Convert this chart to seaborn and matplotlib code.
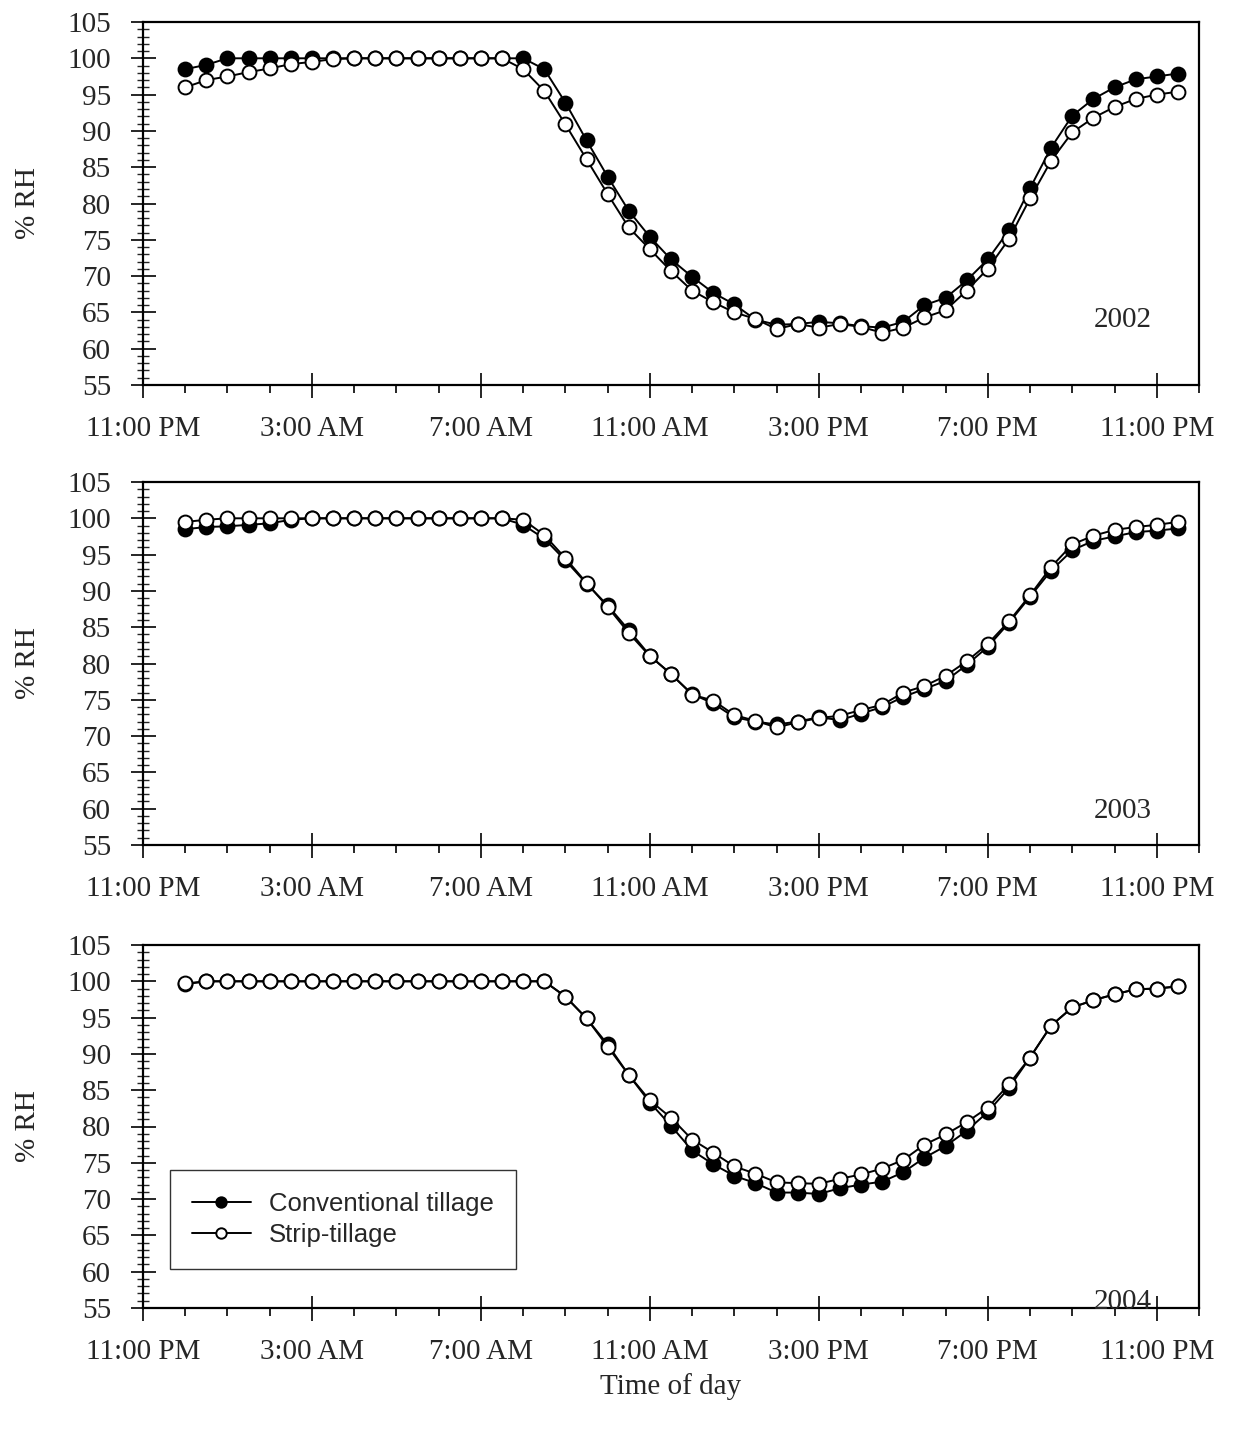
import numpy as np
import pandas as pd
import seaborn as sns
import matplotlib.pyplot as plt
import matplotlib.transforms as mtransforms
from matplotlib.ticker import MultipleLocator

# half-hourly readings, hours after midnight
hours = [0.0, 0.5, 1.0, 1.5, 2.0, 2.5, 3.0, 3.5, 4.0, 4.5, 5.0, 5.5,
         6.0, 6.5, 7.0, 7.5, 8.0, 8.5, 9.0, 9.5, 10.0, 10.5, 11.0, 11.5,
         12.0, 12.5, 13.0, 13.5, 14.0, 14.5, 15.0, 15.5, 16.0, 16.5, 17.0, 17.5,
         18.0, 18.5, 19.0, 19.5, 20.0, 20.5, 21.0, 21.5, 22.0, 22.5, 23.0, 23.5]

years = ["2002", "2003", "2004"]

conv_2002 = [98.5, 99.1, 100, 100, 100, 100, 100, 100, 100, 100, 100, 100,
             100, 100, 100, 100, 100, 98.5, 93.9, 88.7, 83.7, 79.0, 75.4, 72.3,
             69.9, 67.7, 66.1, 64.0, 63.3, 63.4, 63.7, 63.5, 63.1, 62.9, 63.7, 66.0,
             67.0, 69.4, 72.3, 76.3, 82.1, 87.7, 92.1, 94.4, 96.0, 97.1, 97.5, 97.9]
strip_2002 = [96.0, 97.0, 97.5, 98.1, 98.6, 99.2, 99.5, 99.9, 100, 100, 100, 100,
              100, 100, 100, 100, 98.5, 95.5, 90.9, 86.1, 81.3, 76.7, 73.7, 70.7,
              68.0, 66.4, 65.0, 64.1, 62.7, 63.4, 62.9, 63.4, 63.0, 62.2, 62.9, 64.3,
              65.3, 68.0, 71.0, 75.1, 80.7, 85.9, 89.8, 91.8, 93.3, 94.4, 95.0, 95.4]

conv_2003 = [98.5, 98.8, 98.9, 99.1, 99.3, 99.8, 100, 100, 100, 100, 100, 100,
             100, 100, 100, 100, 99.1, 97.2, 94.2, 91.0, 88.0, 84.6, 81.1, 78.5,
             75.8, 74.5, 72.6, 72.0, 71.6, 72.0, 72.6, 72.2, 73.1, 74.0, 75.4, 76.5,
             77.6, 79.8, 82.3, 85.6, 89.2, 92.8, 95.6, 96.9, 97.5, 98.1, 98.3, 98.6]
strip_2003 = [99.5, 99.8, 100, 100, 100, 100, 100, 100, 100, 100, 100, 100,
              100, 100, 100, 100, 99.8, 97.7, 94.5, 91.1, 87.8, 84.2, 81.0, 78.6,
              75.7, 74.9, 72.9, 72.1, 71.2, 71.9, 72.5, 72.8, 73.6, 74.3, 76.0, 76.9,
              78.3, 80.3, 82.7, 85.8, 89.4, 93.3, 96.4, 97.6, 98.4, 98.8, 99.1, 99.5]

conv_2004 = [99.6, 100, 100, 100, 100, 100, 100, 100, 100, 100, 100, 100,
             100, 100, 100, 100, 100, 100, 97.9, 94.9, 91.3, 87.1, 83.3, 80.1,
             76.7, 74.8, 73.2, 72.2, 70.9, 70.9, 70.7, 71.5, 72.0, 72.4, 73.7, 75.7,
             77.3, 79.4, 82.0, 85.3, 89.5, 93.9, 96.4, 97.4, 98.2, 98.9, 99.0, 99.3]
strip_2004 = [99.7, 100, 100, 100, 100, 100, 100, 100, 100, 100, 100, 100,
              100, 100, 100, 100, 100, 100, 97.9, 94.9, 91.0, 87.1, 83.6, 81.2,
              78.2, 76.4, 74.5, 73.5, 72.3, 72.2, 72.1, 72.8, 73.4, 74.2, 75.4, 77.5,
              78.9, 80.6, 82.6, 85.8, 89.5, 93.9, 96.4, 97.4, 98.2, 98.9, 99.0, 99.3]

tick_pos = [-1, 3, 7, 11, 15, 19, 23]
tick_labels = ["11:00 PM", "3:00 AM", "7:00 AM", "11:00 AM", "3:00 PM", "7:00 PM", "11:00 PM"]

conv = {"2002": conv_2002, "2003": conv_2003, "2004": conv_2004}
strip = {"2002": strip_2002, "2003": strip_2003, "2004": strip_2004}

sns.set_style("ticks")
plt.rcParams["font.family"] = ["Liberation Serif", "DejaVu Serif"]

fig = plt.figure(figsize=(12.41, 14.31), dpi=100)
left, width, height = 143 / 1241, 1056 / 1241, 363 / 1431
bottoms = [1 - 385 / 1431, 1 - 845 / 1431, 1 - 1308 / 1431]

# year label centres (y in data units)
year_y = {"2002": 64.0, "2003": 59.7, "2004": 55.8}
shift = mtransforms.ScaledTranslation(6 / 100, 0, fig.dpi_scale_trans)

for k, yr in enumerate(years):
    ax = fig.add_axes([left, bottoms[k], width, height])
    df = pd.DataFrame({"hour": hours, "conv": conv[yr], "strip": strip[yr]})
    sns.lineplot(data=df, x="hour", y="conv", ax=ax, color="black", lw=1.4,
                 marker="o", markersize=10, markerfacecolor="black",
                 markeredgecolor="black", markeredgewidth=1.4,
                 label="Conventional tillage")
    sns.lineplot(data=df, x="hour", y="strip", ax=ax, color="black", lw=1.4,
                 marker="o", markersize=10, markerfacecolor="white",
                 markeredgecolor="black", markeredgewidth=1.4,
                 label="Strip-tillage")
    ax.set_xlim(-1, 24)
    ax.set_ylim(55, 105)
    ax.set_xticks(tick_pos)
    ax.set_xticklabels(tick_labels)
    for lab in ax.get_xticklabels():
        lab.set_transform(lab.get_transform() + shift)
    ax.xaxis.set_minor_locator(MultipleLocator(1))
    ax.yaxis.set_major_locator(MultipleLocator(5))
    ax.yaxis.set_minor_locator(MultipleLocator(1))
    ax.tick_params(axis="both", which="major", direction="inout", length=18,
                   width=1.4, labelsize=21)
    ax.tick_params(axis="x", which="major", pad=13)
    ax.tick_params(axis="y", which="major", pad=14)
    ax.tick_params(axis="y", which="minor", direction="inout", length=9, width=1.0)
    ax.tick_params(axis="x", which="minor", direction="out", length=6, width=1.4)
    for sp in ax.spines.values():
        sp.set_linewidth(1.6)
        sp.set_color("black")
    ax.set_ylabel("% RH", fontsize=21, labelpad=19)
    ax.set_xlabel("")
    ax.text(22.2, year_y[yr], yr, fontsize=21, ha="center", va="center")
    if k == 2:
        ax.set_xlabel("Time of day", fontsize=21, labelpad=6)
        leg = ax.legend(loc="upper left", bbox_to_anchor=(0.0256, 0.381),
                        borderaxespad=0,
                        prop={"family": "Liberation Sans", "size": 18.5},
                        markerscale=0.75, handlelength=2.3, handletextpad=0.7,
                        frameon=True, fancybox=False, borderpad=0.85,
                        labelspacing=0.3)
        leg.get_frame().set_edgecolor("black")
        leg.get_frame().set_linewidth(1.0)
    else:
        ax.get_legend().remove()

fig.savefig("out.png", dpi=100)
